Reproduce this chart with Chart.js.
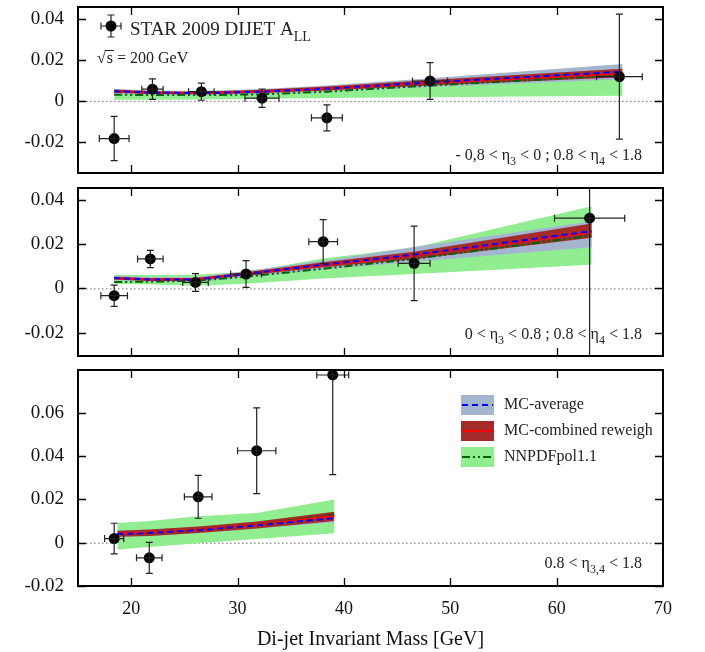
<!DOCTYPE html>
<html><head><meta charset="utf-8">
<script src="https://cdn.jsdelivr.net/npm/chart.js@4.4.0/dist/chart.umd.min.js"></script>
<style>
html,body{margin:0;padding:0;background:#fff;}
#wrap{position:relative;width:705px;height:652px;}
canvas{position:absolute;left:0;}
</style></head><body>
<div id="wrap">
<canvas id="c1" width="705" height="180" style="top:0px"></canvas>
<canvas id="c2" width="705" height="183" style="top:180px"></canvas>
<canvas id="c3" width="705" height="289" style="top:363px"></canvas>
</div>
<script>
// ---------------- DATA ----------------
const xTickValues = [20, 30, 40, 50, 60, 70];
const seriesNames = ['MC-average', 'MC-combined reweigh', 'NNPDFpol1.1'];
const dataLabel = 'STAR 2009 DIJET A';

// Panel 1 : -0.8 < eta3 < 0 ; 0.8 < eta4 < 1.8
const p1X  = [18.4, 22.0, 26.6, 32.3, 38.4, 48.1, 65.9];
const p1Y  = [-0.0184, 0.0057, 0.0045, 0.0013, -0.0083, 0.0097, 0.0118];
const p1Ex = [1.4, 1.0, 1.2, 1.6, 1.45, 1.65, 2.15];
const p1Ey = [0.0108, 0.0050, 0.0042, 0.0045, 0.0063, 0.0090, 0.0305];
const p1TX   = [18.4, 22.0, 26.6, 32.3, 38.4, 48.1, 66.2];
const p1McC  = [0.0047, 0.0040, 0.0038, 0.0045, 0.0060, 0.0090, 0.0142];
const p1McLo = [0.0035, 0.0030, 0.0028, 0.0033, 0.0045, 0.0068, 0.0105];
const p1McHi = [0.0058, 0.0050, 0.0048, 0.0058, 0.0075, 0.0110, 0.0180];
const p1RwC  = [0.0047, 0.0040, 0.0038, 0.0046, 0.0060, 0.0088, 0.0135];
const p1RwLo = [0.0040, 0.0034, 0.0032, 0.0038, 0.0050, 0.0075, 0.0115];
const p1RwHi = [0.0055, 0.0047, 0.0045, 0.0054, 0.0070, 0.0102, 0.0157];
const p1NnC  = [0.0030, 0.0028, 0.0028, 0.0032, 0.0045, 0.0075, 0.0125];
const p1NnLo = [0.0005, 0.0005, 0.0007, 0.0010, 0.0014, 0.0018, 0.0025];
const p1NnHi = [0.0050, 0.0045, 0.0042, 0.0050, 0.0070, 0.0105, 0.0170];

// Panel 2 : 0 < eta3 < 0.8 ; 0.8 < eta4 < 1.8
const p2X  = [18.4, 21.8, 26.05, 30.8, 38.05, 46.6, 63.1];
const p2Y  = [-0.0033, 0.0133, 0.0027, 0.0065, 0.0211, 0.0113, 0.0317];
const p2Ex = [1.25, 1.2, 1.2, 1.45, 1.35, 1.5, 3.3];
const p2Ey = [0.0048, 0.0039, 0.0040, 0.0060, 0.0099, 0.0168, 0.0800];
const p2TX   = [18.4, 21.8, 26.05, 30.8, 38.05, 46.6, 63.3];
const p2McC  = [0.0047, 0.0040, 0.0040, 0.0066, 0.0107, 0.0152, 0.0258];
const p2McLo = [0.0036, 0.0030, 0.0030, 0.0050, 0.0085, 0.0120, 0.0186];
const p2McHi = [0.0058, 0.0050, 0.0050, 0.0078, 0.0125, 0.0187, 0.0303];
const p2RwC  = [0.0046, 0.0040, 0.0041, 0.0066, 0.0106, 0.0150, 0.0255];
const p2RwLo = [0.0040, 0.0033, 0.0034, 0.0058, 0.0095, 0.0132, 0.0228];
const p2RwHi = [0.0053, 0.0046, 0.0047, 0.0073, 0.0118, 0.0165, 0.0293];
const p2NnC  = [0.0029, 0.0030, 0.0035, 0.0053, 0.0089, 0.0133, 0.0238];
const p2NnLo = [0.0021, 0.0018, 0.0012, 0.0021, 0.0045, 0.0065, 0.0107];
const p2NnHi = [0.0062, 0.0060, 0.0062, 0.0074, 0.0135, 0.0185, 0.0371];

// Panel 3 : 0.8 < eta3,4 < 1.8
const p3X  = [18.4, 21.7, 26.3, 31.8, 38.95];
const p3Y  = [0.0019, -0.0070, 0.0212, 0.0425, 0.0775];
const p3Ex = [0.9, 1.2, 1.3, 1.8, 1.5];
const p3Ey = [0.0071, 0.0072, 0.0099, 0.0198, 0.0460];
const p3TX   = [18.7, 21.7, 26.3, 31.8, 39.1];
const p3McC  = [0.0040, 0.0045, 0.0058, 0.0080, 0.0114];
const p3McLo = [0.0027, 0.0031, 0.0045, 0.0066, 0.0095];
const p3McHi = [0.0055, 0.0060, 0.0073, 0.0095, 0.0135];
const p3RwC  = [0.0041, 0.0046, 0.0060, 0.0082, 0.0125];
const p3RwLo = [0.0027, 0.0031, 0.0045, 0.0066, 0.0100];
const p3RwHi = [0.0055, 0.0061, 0.0075, 0.0098, 0.0143];
const p3NnC  = [0.0040, 0.0045, 0.0060, 0.0082, 0.0132];
const p3NnLo = [-0.0031, -0.0020, -0.0003, 0.0017, 0.0044];
const p3NnHi = [0.0091, 0.0100, 0.0122, 0.0137, 0.0200];

// ---------------- STYLE ----------------
const FONT = "'Liberation Serif', 'DejaVu Serif', serif";
const C = {
  green: '#90ee90', blueBand: '#a3b5cf', redBand: '#a52a2a',
  blue: '#0000ff', red: '#ff0000', dgreen: '#006400'
};
const DASH_BLUE = [6, 4];
const DASH_GREEN = [8, 3, 2, 3, 2, 3];

const pts = (xs, ys) => xs.map((x, i) => ({x: x, y: ys[i]}));

function buildDatasets(tx, mcLo, mcHi, mcC, rwLo, rwHi, rwC, nnLo, nnHi, nnC, px, py) {
  const band = (d, order) => ({type: 'line', data: d, borderWidth: 0, pointRadius: 0, tension: 0, order: order});
  return [
    Object.assign(band(pts(tx, nnLo), 30), {fill: false}),
    Object.assign(band(pts(tx, nnHi), 30), {fill: '-1', backgroundColor: C.green}),
    Object.assign(band(pts(tx, mcLo), 20), {fill: false}),
    Object.assign(band(pts(tx, mcHi), 20), {fill: '-1', backgroundColor: C.blueBand}),
    Object.assign(band(pts(tx, rwLo), 10), {fill: false}),
    Object.assign(band(pts(tx, rwHi), 10), {fill: '-1', backgroundColor: C.redBand}),
    {type: 'line', data: pts(tx, nnC), borderColor: C.dgreen, borderWidth: 2, borderDash: DASH_GREEN, pointRadius: 0, fill: false, order: 7},
    {type: 'line', data: pts(tx, rwC), borderColor: C.red, borderWidth: 2, pointRadius: 0, fill: false, order: 6},
    {type: 'line', data: pts(tx, mcC), borderColor: C.blue, borderWidth: 2, borderDash: DASH_BLUE, pointRadius: 0, fill: false, order: 5},
    {type: 'scatter', data: pts(px, py), pointRadius: 5.5, pointBackgroundColor: '#000', pointBorderColor: '#000', borderWidth: 0, showLine: false, order: 0}
  ];
}

// rich text: parts = [[text, 'n'|'sub'], ...]
function richText(ctx, parts, x, y, size, align) {
  const subSize = Math.round(size * 0.72);
  let w = 0;
  parts.forEach(p => { ctx.font = (p[1] === 'sub' ? subSize : size) + 'px ' + FONT; w += ctx.measureText(p[0]).width; });
  let cx = align === 'right' ? x - w : x;
  ctx.textBaseline = 'alphabetic';
  ctx.textAlign = 'left';
  parts.forEach(p => {
    const s = p[1] === 'sub';
    ctx.font = (s ? subSize : size) + 'px ' + FONT;
    ctx.fillText(p[0], cx, s ? y + size * 0.3 : y);
    cx += ctx.measureText(p[0]).width;
  });
}

function framePlugin(opts) {
  return {
    id: 'frame',
    beforeDatasetsDraw(chart) {
      const ctx = chart.ctx, a = chart.chartArea, ys = chart.scales.y;
      const y0 = ys.getPixelForValue(0);
      ctx.save();
      ctx.strokeStyle = '#666'; ctx.lineWidth = 1; ctx.setLineDash([1.5, 2.5]);
      ctx.beginPath(); ctx.moveTo(a.left, y0 + 0.5); ctx.lineTo(a.right, y0 + 0.5); ctx.stroke();
      ctx.restore();
    },
    afterDatasetsDraw(chart) {
      const ctx = chart.ctx, a = chart.chartArea, xs = chart.scales.x, ys = chart.scales.y;
      const ex = opts.ex, ey = opts.ey, px = opts.px, py = opts.py;
      ctx.save();
      // error bars
      ctx.beginPath(); ctx.rect(a.left, a.top, a.right - a.left, a.bottom - a.top); ctx.clip();
      ctx.strokeStyle = '#222'; ctx.lineWidth = 1.2;
      px.forEach((x, i) => {
        const cx = xs.getPixelForValue(x), cy = ys.getPixelForValue(py[i]);
        const xl = xs.getPixelForValue(x - ex[i]), xr = xs.getPixelForValue(x + ex[i]);
        const yt = ys.getPixelForValue(py[i] + ey[i]), yb = ys.getPixelForValue(py[i] - ey[i]);
        ctx.beginPath();
        ctx.moveTo(xl, cy); ctx.lineTo(xr, cy);
        ctx.moveTo(xl, cy - 3.5); ctx.lineTo(xl, cy + 3.5);
        ctx.moveTo(xr, cy - 3.5); ctx.lineTo(xr, cy + 3.5);
        ctx.moveTo(cx, yt); ctx.lineTo(cx, yb);
        ctx.moveTo(cx - 3.5, yt); ctx.lineTo(cx + 3.5, yt);
        ctx.moveTo(cx - 3.5, yb); ctx.lineTo(cx + 3.5, yb);
        ctx.stroke();
      });
      ctx.restore();
      ctx.save();
      // ticks
      ctx.strokeStyle = '#000'; ctx.lineWidth = 1.3;
      const TL = 8;
      ctx.beginPath();
      xTickValues.forEach(v => {
        const p = Math.round(xs.getPixelForValue(v)) + 0.5;
        if (p >= a.right - 1) return;
        ctx.moveTo(p, a.bottom); ctx.lineTo(p, a.bottom - TL);
        ctx.moveTo(p, a.top); ctx.lineTo(p, a.top + TL);
      });
      ys.ticks.forEach(t => {
        const p = Math.round(ys.getPixelForValue(t.value)) + 0.5;
        ctx.moveTo(a.left, p); ctx.lineTo(a.left + TL, p);
        ctx.moveTo(a.right, p); ctx.lineTo(a.right - TL, p);
      });
      ctx.stroke();
      // frame
      ctx.lineWidth = 2;
      ctx.strokeRect(a.left, a.top, a.right - a.left, a.bottom - a.top);
      ctx.restore();
      // labels
      ctx.save();
      ctx.fillStyle = '#222';
      if (opts.region) richText(ctx, opts.region, a.right - 21, a.bottom - opts.regionDy, 16, 'right');
      if (opts.extra) opts.extra(ctx, a);
      ctx.restore();
    }
  };
}

function makeChart(id, yMin, yMax, padTop, padBottom, showX, ds, pluginOpts) {
  return new Chart(document.getElementById(id), {
    type: 'line',
    data: {datasets: ds},
    options: {
      responsive: false, animation: false, events: [],
      layout: {padding: {left: 0, right: 42, top: padTop, bottom: padBottom}},
      plugins: {legend: {display: false}, tooltip: {enabled: false}},
      scales: {
        x: {
          type: 'linear', min: 15, max: 70, display: showX,
          grid: {display: false, drawTicks: false}, border: {display: false},
          ticks: {stepSize: 10, includeBounds: false, color: '#111', padding: 12, maxRotation: 0,
                  font: {family: FONT, size: 18}},
          title: {display: showX, text: 'Di-jet Invariant Mass [GeV]', color: '#111',
                  font: {family: FONT, size: 20}, padding: {top: 4, bottom: 0}},
          afterFit(s) { if (showX) s.height = 66; s.paddingLeft = 0; s.paddingRight = 0; s.paddingTop = 0; s.paddingBottom = 0; }
        },
        y: {
          type: 'linear', min: yMin, max: yMax,
          grid: {display: false, drawTicks: false}, border: {display: false},
          ticks: {stepSize: 0.02, includeBounds: false, color: '#111', padding: 14,
                  font: {family: FONT, size: 19},
                  callback: v => Math.abs(v) < 1e-9 ? '0' : v.toFixed(2)},
          afterFit(s) { s.width = 78; s.paddingTop = 0; s.paddingBottom = 0; s.paddingLeft = 0; s.paddingRight = 0; }
        }
      }
    },
    plugins: [framePlugin(pluginOpts)]
  });
}

// Panel 1
makeChart('c1', -0.0352, 0.0458, 7, 7, false,
  buildDatasets(p1TX, p1McLo, p1McHi, p1McC, p1RwLo, p1RwHi, p1RwC, p1NnLo, p1NnHi, p1NnC, p1X, p1Y),
  {px: p1X, py: p1Y, ex: p1Ex, ey: p1Ey, regionDy: 13,
   region: [['- 0,8 < η', 'n'], ['3', 'sub'], [' < 0 ; 0.8 < η', 'n'], ['4', 'sub'], [' < 1.8', 'n']],
   extra(ctx, a) {
     // data legend marker
     const mx = a.left + 33, my = a.top + 19;
     ctx.strokeStyle = '#222'; ctx.lineWidth = 1.2;
     ctx.beginPath();
     ctx.moveTo(mx - 10, my); ctx.lineTo(mx + 10, my);
     ctx.moveTo(mx - 10, my - 3.5); ctx.lineTo(mx - 10, my + 3.5);
     ctx.moveTo(mx + 10, my - 3.5); ctx.lineTo(mx + 10, my + 3.5);
     ctx.moveTo(mx, my - 11); ctx.lineTo(mx, my + 11);
     ctx.moveTo(mx - 3.5, my - 11); ctx.lineTo(mx + 3.5, my - 11);
     ctx.moveTo(mx - 3.5, my + 11); ctx.lineTo(mx + 3.5, my + 11);
     ctx.stroke();
     ctx.fillStyle = '#000';
     ctx.beginPath(); ctx.arc(mx, my, 5.5, 0, Math.PI * 2); ctx.fill();
     ctx.fillStyle = '#222';
     richText(ctx, [[dataLabel, 'n'], ['LL', 'sub']], a.left + 52, a.top + 28, 19, 'left');
     // sqrt(s) = 200 GeV
     ctx.font = '16px ' + FONT;
     ctx.textBaseline = 'alphabetic'; ctx.textAlign = 'left';
     const sx = a.left + 19, sy = a.top + 56;
     ctx.fillText('√', sx, sy);
     const w1 = ctx.measureText('√').width;
     ctx.fillText('s = 200 GeV', sx + w1 + 1, sy);
     const ws = ctx.measureText('s').width;
     ctx.fillRect(sx + w1 - 1, sy - 13, ws + 3, 1);
   }});

// Panel 2
makeChart('c2', -0.0305, 0.0453, 8, 7, false,
  buildDatasets(p2TX, p2McLo, p2McHi, p2McC, p2RwLo, p2RwHi, p2RwC, p2NnLo, p2NnHi, p2NnC, p2X, p2Y),
  {px: p2X, py: p2Y, ex: p2Ex, ey: p2Ey, regionDy: 17,
   region: [['0 < η', 'n'], ['3', 'sub'], [' < 0.8 ; 0.8 < η', 'n'], ['4', 'sub'], [' < 1.8', 'n']]});

// Panel 3
makeChart('c3', -0.02, 0.0798, 7, 0, true,
  buildDatasets(p3TX, p3McLo, p3McHi, p3McC, p3RwLo, p3RwHi, p3RwC, p3NnLo, p3NnHi, p3NnC, p3X, p3Y),
  {px: p3X, py: p3Y, ex: p3Ex, ey: p3Ey, regionDy: 18,
   region: [['0.8 < η', 'n'], ['3,4', 'sub'], [' < 1.8', 'n']],
   extra(ctx, a) {
     const bands = [C.blueBand, C.redBand, C.green];
     const lines = [[C.blue, DASH_BLUE], [C.red, []], [C.dgreen, DASH_GREEN]];
     const bx = a.right - 202, bw = 33, bh = 20;
     seriesNames.forEach((name, i) => {
       const cy = a.top + 35 + i * 26;
       ctx.fillStyle = bands[i];
       ctx.fillRect(bx, cy - bh / 2, bw, bh);
       ctx.strokeStyle = lines[i][0]; ctx.lineWidth = 2; ctx.setLineDash(lines[i][1]);
       ctx.beginPath(); ctx.moveTo(bx + 1, cy); ctx.lineTo(bx + bw - 1, cy); ctx.stroke();
       ctx.setLineDash([]);
       ctx.fillStyle = '#222';
       ctx.font = '16px ' + FONT; ctx.textAlign = 'left'; ctx.textBaseline = 'middle';
       ctx.fillText(name, bx + bw + 10, cy);
     });
   }});
</script>
</body></html>
